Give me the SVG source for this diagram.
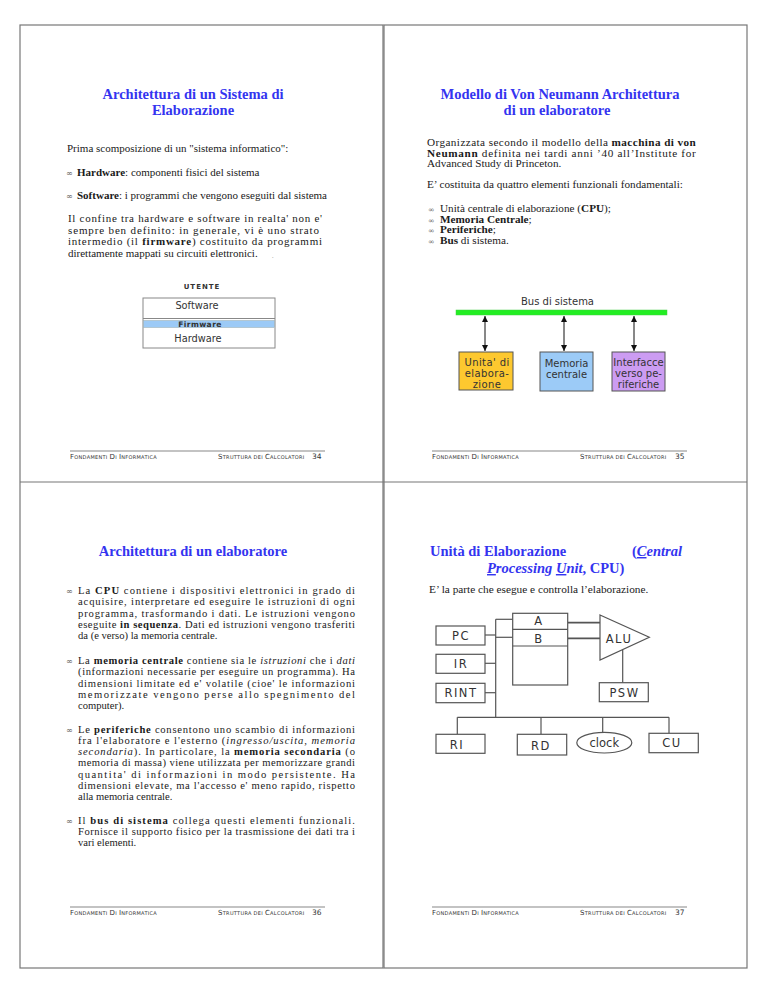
<svg xmlns="http://www.w3.org/2000/svg" width="768" height="994" viewBox="0 0 768 994">
<style>
.t{font-family:"Liberation Serif","Times New Roman",serif;font-size:11px;fill:#1a1a1a}
.r{font-size:11.3px}
.l{font-size:10.6px}
.q{font-size:10px}
.b{font-weight:bold}
.i{font-style:italic}
.h{font-family:"Liberation Serif","Times New Roman",serif;font-size:14.5px;font-weight:bold;fill:#3434f0;text-anchor:middle}
.h2{font-family:"Liberation Serif","Times New Roman",serif;font-size:14.5px;font-weight:bold;fill:#3434f0}
.bu{fill:#666;font-family:"DejaVu Sans",sans-serif;font-size:8px}
.bq{fill:#666;font-family:"DejaVu Sans",sans-serif;font-size:7px}
.s{font-family:"DejaVu Sans",sans-serif;fill:#333;text-anchor:middle}
.ft{font-family:"DejaVu Sans",sans-serif;font-size:5px;fill:#333;letter-spacing:0.3px}
.fl{font-size:7px}
.pg{font-family:"DejaVu Sans",sans-serif;font-size:7.5px;fill:#333}
.box{fill:#fff;stroke:#555;stroke-width:1.2}
.ln{stroke:#555;stroke-width:1.2;fill:none}
.fr{fill:none;stroke:#777;stroke-width:1.2}
.fline{stroke:#555;stroke-width:0.7}
.reg{font-family:"DejaVu Sans",sans-serif;font-size:11.5px;fill:#333;letter-spacing:1.5px;text-anchor:middle}
</style>
<defs>
<marker id="ar" markerWidth="6" markerHeight="6" refX="6" refY="3" orient="auto-start-reverse" markerUnits="userSpaceOnUse">
<path d="M0,0 L6,3 L0,6 z" fill="#111"/>
</marker>
</defs>
<rect width="768" height="994" fill="#fff"/>

<g id="frames">
<rect class="fr" x="20" y="25" width="363" height="943"/>
<rect class="fr" x="384" y="25" width="363" height="943"/>
<line class="fr" x1="20" y1="482" x2="747" y2="482"/>
</g>

<!-- Slide 34 -->
<g id="slide34">
<text class="h" x="193" y="99">Architettura di un Sistema di</text>
<text class="h" x="193" y="115">Elaborazione</text>
<text class="t" x="67" y="151.5">Prima scomposizione di un "sistema informatico":</text>
<text class="bu" x="66" y="176">∞</text>
<text class="t" x="77" y="176"><tspan class="b">Hardware</tspan>:  componenti fisici del sistema</text>
<text class="bu" x="66" y="198.5">∞</text>
<text class="t" x="77" y="198.5"><tspan class="b">Software</tspan>: i programmi che vengono eseguiti dal sistema</text>
<text class="t" x="68" y="222" textLength="254" lengthAdjust="spacing">Il confine tra hardware e software in realta' non e'</text>
<text class="t" x="68" y="233.5" textLength="251" lengthAdjust="spacing">sempre ben definito: in generale, vi è uno strato</text>
<text class="t" x="68" y="245" textLength="254" lengthAdjust="spacing">intermedio (il <tspan class="b">firmware</tspan>) costituito da programmi</text>
<text class="t" x="68" y="256.5">direttamente mappati su circuiti elettronici.</text>
<text class="t" x="272" y="258" style="font-size:6px;fill:#888">.</text>
</g>

<g id="layers">
<text x="202" y="289" style="font-family:'DejaVu Sans',sans-serif;font-size:7px;font-weight:bold;fill:#333;letter-spacing:1px;text-anchor:middle">UTENTE</text>
<rect x="143" y="298" width="132" height="50" fill="#fff" stroke="#888" stroke-width="1"/>
<line x1="143" y1="318.5" x2="275" y2="318.5" stroke="#888" stroke-width="1"/>
<rect x="143.5" y="320.5" width="131" height="7" fill="#9ccaf6" stroke="#9aa" stroke-width="0.5"/>
<text class="s" x="197" y="309" style="font-size:9.8px">Software</text>
<text class="s" x="200" y="326.6" style="font-size:7.6px;font-weight:bold;letter-spacing:0.4px">Firmware</text>
<text class="s" x="198" y="342" style="font-size:9.8px">Hardware</text>
</g>

<g id="footer34">
<line class="fline" x1="70" y1="451" x2="325" y2="451"/>
<text class="ft" x="70" y="459"><tspan class="fl">F</tspan>ONDAMENTI <tspan class="fl">D</tspan>I <tspan class="fl">I</tspan>NFORMATICA</text>
<text class="ft" x="218" y="459"><tspan class="fl">S</tspan>TRUTTURA DEI <tspan class="fl">C</tspan>ALCOLATORI</text>
<text class="pg" x="312" y="459">34</text>
</g>

<!-- Slide 35 -->
<g id="slide35">
<text class="h" x="560" y="99">Modello di Von Neumann Architettura</text>
<text class="h" x="557" y="115">di un elaboratore</text>
<g transform="translate(427 0) scale(1.12 1)">
<text class="t q" x="0" y="146" textLength="240" lengthAdjust="spacing">Organizzata secondo il modello della <tspan class="b">macchina di von</tspan></text>
<text class="t q" x="0" y="157" textLength="240" lengthAdjust="spacing"><tspan class="b">Neumann</tspan> definita nei tardi anni ’40 all’Institute for</text>
<text class="t q" x="0" y="167.5">Advanced Study di Princeton.</text>
<text class="t q" x="0" y="188">E’ costituita da quattro elementi funzionali fondamentali:</text>
<text class="bq" x="1" y="212.5">∞</text>
<text class="t q" x="11.6" y="212.5">Unità centrale di elaborazione (<tspan class="b">CPU</tspan>);</text>
<text class="bq" x="1" y="223">∞</text>
<text class="t q" x="11.6" y="223"><tspan class="b">Memoria Centrale</tspan>;</text>
<text class="bq" x="1" y="233.5">∞</text>
<text class="t q" x="11.6" y="233.5"><tspan class="b">Periferiche</tspan>;</text>
<text class="bq" x="1" y="244">∞</text>
<text class="t q" x="11.6" y="244"><tspan class="b">Bus</tspan> di sistema.</text>
</g>
</g>

<g id="bus">
<text class="s" x="557.5" y="305" style="font-size:10px">Bus di sistema</text>
<rect x="456" y="310" width="211" height="5" fill="#22ee22" stroke="#4c4" stroke-width="0.5"/>
</g>
<g id="connectors35">
<line x1="485" y1="316" x2="485" y2="351" stroke="#111" stroke-width="1" marker-start="url(#ar)" marker-end="url(#ar)"/>
<line x1="564" y1="316" x2="564" y2="351" stroke="#111" stroke-width="1" marker-start="url(#ar)" marker-end="url(#ar)"/>
<line x1="634" y1="316" x2="634" y2="351" stroke="#111" stroke-width="1" marker-start="url(#ar)" marker-end="url(#ar)"/>
</g>
<g id="cpu35">
<rect x="459" y="352" width="54" height="38" fill="#fdc82f" stroke="#555" stroke-width="1"/>
<text class="s" x="487" y="366" style="font-size:10px;letter-spacing:0.4px">Unita' di</text>
<text class="s" x="487" y="377" style="font-size:10px;letter-spacing:0.4px">elabora-</text>
<text class="s" x="487" y="388" style="font-size:10px;letter-spacing:0.4px">zione</text>
</g>
<g id="mem35">
<rect x="540" y="352" width="53" height="39" fill="#9ccbf7" stroke="#555" stroke-width="1"/>
<text class="s" x="566.5" y="367" style="font-size:10px">Memoria</text>
<text class="s" x="566.5" y="378" style="font-size:10px">centrale</text>
</g>
<g id="io35">
<rect x="612" y="352" width="53" height="39" fill="#cc9cf2" stroke="#555" stroke-width="1"/>
<text class="s" x="638.5" y="366" style="font-size:10px">Interfacce</text>
<text class="s" x="638.5" y="377" style="font-size:10px">verso pe-</text>
<text class="s" x="638.5" y="388" style="font-size:10px">riferiche</text>
</g>

<g id="footer35">
<line class="fline" x1="432" y1="451" x2="687" y2="451"/>
<text class="ft" x="432" y="459"><tspan class="fl">F</tspan>ONDAMENTI <tspan class="fl">D</tspan>I <tspan class="fl">I</tspan>NFORMATICA</text>
<text class="ft" x="580" y="459"><tspan class="fl">S</tspan>TRUTTURA DEI <tspan class="fl">C</tspan>ALCOLATORI</text>
<text class="pg" x="675" y="459">35</text>
</g>

<!-- Slide 36 -->
<g id="slide36">
<text class="h" x="193" y="556">Architettura di un elaboratore</text>
<text class="bu" x="66" y="594">∞</text>
<text class="t l" x="78" y="594" textLength="277" lengthAdjust="spacing">La <tspan class="b">CPU</tspan> contiene i dispositivi elettronici in grado di</text>
<text class="t l" x="78" y="605.3" textLength="277" lengthAdjust="spacing">acquisire, interpretare ed eseguire le istruzioni di ogni</text>
<text class="t l" x="78" y="616.6" textLength="277" lengthAdjust="spacing">programma, trasformando i dati. Le istruzioni vengono</text>
<text class="t l" x="78" y="627.9" textLength="277" lengthAdjust="spacing">eseguite <tspan class="b">in sequenza</tspan>. Dati ed istruzioni vengono trasferiti</text>
<text class="t l" x="78" y="639.2">da (e verso) la memoria centrale.</text>

<text class="bu" x="66" y="664">∞</text>
<text class="t l" x="78" y="664" textLength="277" lengthAdjust="spacing">La  <tspan class="b">memoria centrale</tspan> contiene sia le <tspan class="i">istruzioni</tspan>  che i <tspan class="i">dati</tspan></text>
<text class="t l" x="78" y="675.3" textLength="277" lengthAdjust="spacing">(informazioni necessarie per eseguire un programma). Ha</text>
<text class="t l" x="78" y="686.6" textLength="277" lengthAdjust="spacing">dimensioni limitate ed e' volatile (cioe' le informazioni</text>
<text class="t l" x="78" y="697.9" textLength="277" lengthAdjust="spacing">memorizzate vengono perse allo spegnimento del</text>
<text class="t l" x="78" y="709.2">computer).</text>

<text class="bu" x="66" y="732.5">∞</text>
<text class="t l" x="78" y="732.5" textLength="277" lengthAdjust="spacing">Le <tspan class="b">periferiche</tspan> consentono uno scambio di informazioni</text>
<text class="t l" x="78" y="743.8" textLength="277" lengthAdjust="spacing">fra l'elaboratore e l'esterno (<tspan class="i">ingresso/uscita, memoria</tspan></text>
<text class="t l" x="78" y="755.1" textLength="277" lengthAdjust="spacing"><tspan class="i">secondaria</tspan>). In particolare, la <tspan class="b">memoria secondaria</tspan> (o</text>
<text class="t l" x="78" y="766.4" textLength="277" lengthAdjust="spacing">memoria di massa) viene utilizzata per memorizzare grandi</text>
<text class="t l" x="78" y="777.7" textLength="277" lengthAdjust="spacing">quantita' di informazioni in modo persistente. Ha</text>
<text class="t l" x="78" y="789" textLength="277" lengthAdjust="spacing">dimensioni elevate, ma l'accesso e' meno rapido, rispetto</text>
<text class="t l" x="78" y="800.3">alla memoria centrale.</text>

<text class="bu" x="66" y="823.5">∞</text>
<text class="t l" x="78" y="823.5" textLength="277" lengthAdjust="spacing">Il <tspan class="b">bus di sistema</tspan> collega questi elementi funzionali.</text>
<text class="t l" x="78" y="834.8" textLength="277" lengthAdjust="spacing">Fornisce il supporto fisico per la trasmissione dei dati tra i</text>
<text class="t l" x="78" y="846.1">vari elementi.</text>
</g>

<g id="footer36">
<line class="fline" x1="70" y1="907" x2="325" y2="907"/>
<text class="ft" x="70" y="915"><tspan class="fl">F</tspan>ONDAMENTI <tspan class="fl">D</tspan>I <tspan class="fl">I</tspan>NFORMATICA</text>
<text class="ft" x="218" y="915"><tspan class="fl">S</tspan>TRUTTURA DEI <tspan class="fl">C</tspan>ALCOLATORI</text>
<text class="pg" x="312" y="915">36</text>
</g>

<!-- Slide 37 -->
<g id="slide37">
<text class="h2" x="430" y="556">Unità di Elaborazione</text>
<text class="h2" x="632" y="556">(<tspan class="i" text-decoration="underline">C</tspan><tspan class="i">entral</tspan></text>
<text class="h2" x="487" y="573"><tspan class="i" text-decoration="underline">P</tspan><tspan class="i">rocessing </tspan><tspan class="i" text-decoration="underline">U</tspan><tspan class="i">nit</tspan>, CPU)</text>
<text class="t r" x="429" y="593">E’ la parte che esegue e controlla l’elaborazione.</text>
</g>

<g id="connectors37">
<line class="ln" x1="495.7" y1="619.3" x2="495.7" y2="717.3"/>
<line class="ln" x1="495.7" y1="619.3" x2="512.7" y2="619.3"/>
<line class="ln" x1="495.7" y1="637.3" x2="512.7" y2="637.3"/>
<line class="ln" x1="485" y1="635" x2="495.7" y2="635"/>
<line class="ln" x1="485" y1="663.3" x2="495.7" y2="663.3"/>
<line class="ln" x1="485" y1="692.7" x2="495.7" y2="692.7"/>
<line class="ln" x1="567.7" y1="622.7" x2="600" y2="622.7" style="stroke-width:1.8"/>
<line class="ln" x1="567.7" y1="638.3" x2="600" y2="638.3" style="stroke-width:1.8"/>
<line class="ln" x1="622.7" y1="650" x2="622.7" y2="682.7"/>
<line class="ln" x1="457.3" y1="717.3" x2="669" y2="717.3"/>
<line class="ln" x1="457.3" y1="717.3" x2="457.3" y2="734.3"/>
<line class="ln" x1="541" y1="717.3" x2="541" y2="734.3"/>
<line class="ln" x1="602.7" y1="717.3" x2="602.7" y2="732.4"/>
<line class="ln" x1="669" y1="717.3" x2="669" y2="733.3"/>
</g>
<g id="regfile">
<rect class="box" x="512.7" y="613.3" width="55" height="71.7"/>
<line class="ln" x1="512.7" y1="629.3" x2="567.7" y2="629.3"/>
<line class="ln" x1="512.7" y1="646" x2="567.7" y2="646"/>
<text class="reg" x="539" y="625">A</text>
<text class="reg" x="539" y="643">B</text>
</g>
<g id="alu">
<polygon points="600,615 649.3,637.3 600,660" fill="#fff" stroke="#555" stroke-width="1.2"/>
<text class="reg" x="619" y="642.5">ALU</text>
</g>
<g id="pc"><rect class="box" x="436" y="626" width="49" height="19"/><text class="reg" x="461" y="639.5">PC</text></g>
<g id="ir"><rect class="box" x="436" y="654.3" width="49" height="19"/><text class="reg" x="461" y="667.5">IR</text></g>
<g id="rint"><rect class="box" x="436" y="683.3" width="49" height="19.4"/><text class="reg" x="461" y="697">RINT</text></g>
<g id="psw"><rect class="box" x="599.3" y="682.7" width="49" height="19"/><text class="reg" x="624.5" y="697">PSW</text></g>
<g id="ri"><rect class="box" x="436" y="734.3" width="49" height="19"/><text class="reg" x="457" y="749">RI</text></g>
<g id="rd"><rect class="box" x="517.3" y="734.3" width="49.4" height="20.7"/><text class="reg" x="541" y="749.5">RD</text></g>
<g id="clock"><ellipse cx="604.3" cy="742.7" rx="27.5" ry="10.3" fill="#fff" stroke="#555" stroke-width="1.2"/><text class="reg" x="604.3" y="746.7" style="letter-spacing:0">clock</text></g>
<g id="cu"><rect class="box" x="649" y="733.3" width="49.3" height="19.4"/><text class="reg" x="672" y="747">CU</text></g>

<g id="footer37">
<line class="fline" x1="432" y1="907" x2="687" y2="907"/>
<text class="ft" x="432" y="915"><tspan class="fl">F</tspan>ONDAMENTI <tspan class="fl">D</tspan>I <tspan class="fl">I</tspan>NFORMATICA</text>
<text class="ft" x="580" y="915"><tspan class="fl">S</tspan>TRUTTURA DEI <tspan class="fl">C</tspan>ALCOLATORI</text>
<text class="pg" x="675" y="915">37</text>
</g>
</svg>
